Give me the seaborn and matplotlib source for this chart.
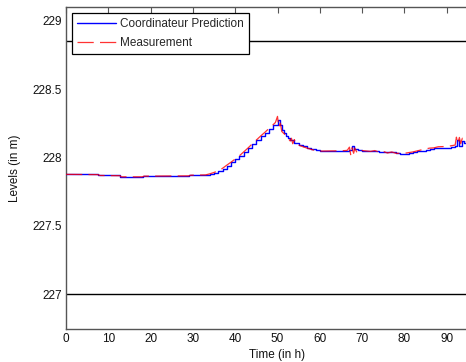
import matplotlib
matplotlib.use("Agg")
import matplotlib.pyplot as plt
import seaborn as sns
import pandas as pd

# ---- data ----
pred_t = [0, 7.6, 12.8, 18.3, 29, 33, 34, 35, 36, 37, 38, 39, 40, 41, 42, 43, 44, 45,
          46, 47, 48, 49, 50, 50.5, 51, 51.5, 52, 52.5, 53, 54, 55, 56, 57, 58, 59, 60,
          62, 64, 66, 67, 67.5, 68, 69, 70, 72, 74, 76, 78, 79, 80, 81, 82, 83, 84, 85,
          86, 87, 88, 90, 91, 92, 92.5, 93, 93.5, 94, 95]
pred_v = [227.876, 227.868, 227.858, 227.863, 227.870, 227.872, 227.878, 227.887, 227.900,
          227.918, 227.940, 227.963, 227.985, 228.008, 228.037, 228.066, 228.095, 228.124,
          228.153, 228.180, 228.208, 228.235, 228.275, 228.240, 228.200, 228.180, 228.160,
          228.145, 228.125, 228.108, 228.093, 228.080, 228.070, 228.060, 228.052, 228.047,
          228.046, 228.047, 228.050, 228.055, 228.083, 228.058, 228.052, 228.050, 228.046,
          228.040, 228.036, 228.032, 228.028, 228.026, 228.032, 228.038, 228.044, 228.050,
          228.056, 228.062, 228.066, 228.068, 228.072, 228.076, 228.082, 228.125, 228.082,
          228.120, 228.107, 228.107]

meas_t = [0, 7.6, 8, 12.8, 13, 18, 18.5, 29, 29.5, 33, 34, 35, 36, 37, 38, 39, 40, 41, 42,
          43, 44, 45, 46, 47, 48, 49, 49.5, 50, 50.3, 50.7, 51, 52, 53, 53.3, 53.6, 54,
          54.3, 55, 56, 57, 58, 59, 60, 62, 64, 66, 66.5, 67, 67.3, 67.6, 68, 68.3, 68.7,
          69, 70, 72, 73, 74, 75, 76, 77, 78, 80, 82, 84, 85, 86, 87, 88, 90, 91, 92, 92.3,
          92.6, 93, 93.3, 93.7, 94, 95]
meas_v = [227.876, 227.874, 227.868, 227.866, 227.858, 227.858, 227.863, 227.865, 227.870,
          227.872, 227.880, 227.890, 227.903, 227.920, 227.943, 227.965, 227.988, 228.012,
          228.040, 228.068, 228.098, 228.127, 228.156, 228.183, 228.212, 228.240, 228.255,
          228.300, 228.220, 228.250, 228.190, 228.160, 228.120, 228.140, 228.100, 228.130,
          228.100, 228.090, 228.078, 228.068, 228.058, 228.050, 228.046, 228.047, 228.048,
          228.050, 228.052, 228.075, 228.020, 228.070, 228.030, 228.068, 228.040, 228.058,
          228.050, 228.044, 228.050, 228.038, 228.044, 228.032, 228.040, 228.030, 228.030,
          228.040, 228.055, 228.062, 228.068, 228.070, 228.078, 228.080, 228.085, 228.090,
          228.148, 228.100, 228.146, 228.100, 228.140, 228.112, 228.118]

limit_levels = [228.85, 227.0]

x_ticks = [0, 10, 20, 30, 40, 50, 60, 70, 80, 90]
y_ticks = [227.0, 227.5, 228.0, 228.5, 229.0]
y_tick_labels = ["227", "227.5", "228", "228.5", "229"]

# ---- style ----
sns.set_theme(style="white")
plt.rcParams["font.family"] = ["Liberation Sans", "DejaVu Sans"]
plt.rcParams["font.size"] = 8.5

fig = plt.figure(figsize=(4.66, 3.62), dpi=100)
ax = fig.add_axes([66 / 466, 1 - 329 / 362, 423 / 466, 322 / 362])

pred_df = pd.DataFrame({"t": pred_t, "v": pred_v})
meas_df = pd.DataFrame({"t": meas_t, "v": meas_v})

for lv in limit_levels:
    ax.axhline(lv, color="black", lw=1.0, zorder=1)

sns.lineplot(data=pred_df, x="t", y="v", ax=ax, color="#0000ff", lw=1.0,
             drawstyle="steps-post", sort=False, label="Coordinateur Prediction",
             zorder=3)
sns.lineplot(data=meas_df, x="t", y="v", ax=ax, color="#ff0000", lw=0.9,
             dashes=False, linestyle=(0, (13, 5)), sort=False, label="Measurement",
             alpha=0.8, zorder=4)

ax.set_xlim(0, 100)
ax.set_ylim(226.745, 229.1)
ax.set_xticks(x_ticks)
ax.set_xticklabels([str(v) for v in x_ticks])
ax.set_yticks(y_ticks)
ax.set_yticklabels(y_tick_labels)
ax.set_xlabel("Time (in h)", fontsize=8.5, labelpad=3, color="#111111")
ax.set_ylabel("Levels (in m)", fontsize=8.5, labelpad=8, color="#111111")

ax.tick_params(axis="both", direction="in", length=4, width=0.8, colors="#555555",
               labelcolor="#111111", labelsize=8.5, top=True, right=False, pad=3)
for side in ["left", "bottom", "top"]:
    ax.spines[side].set_visible(True)
    ax.spines[side].set_color("#555555")
    ax.spines[side].set_linewidth(1.0)
ax.spines["right"].set_visible(False)

leg = ax.legend(loc="upper left", bbox_to_anchor=(6 / 423, 1 - 6 / 322), fontsize=8.5,
                frameon=True, fancybox=False, edgecolor="black", framealpha=1,
                handlelength=3.3, handletextpad=0.4, borderpad=0.4, labelspacing=0.6,
                borderaxespad=0)
leg.get_frame().set_linewidth(0.9)
leg.set_zorder(10)

fig.savefig("out.png", dpi=100)
